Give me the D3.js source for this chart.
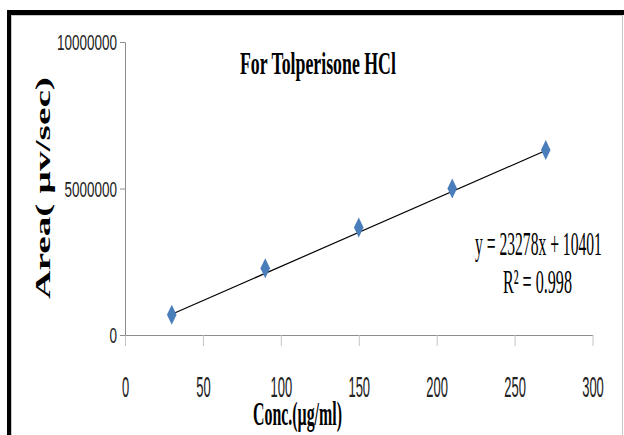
<!DOCTYPE html>
<html>
<head>
<meta charset="utf-8">
<script src="https://cdn.jsdelivr.net/npm/d3@7"></script>
<style>
  body { margin: 0; background: #fff; }
  svg { display: block; }
</style>
</head>
<body>
<div id="chart"></div>
<script>
// data
const conc = [30, 90, 150, 210, 270];
const area = [690000, 2280000, 3670000, 5000000, 6310000];
const xTicks = [0, 50, 100, 150, 200, 250, 300];
const yTicks = [0, 5000000, 10000000];
const slope = 23278;
const intercept = 10401;
const eqLabel = "y = 23278x + 10401";
const r2Label = "R² = 0.998";

// chart size
const width = 624;
const height = 435;

const svg = d3.select("#chart")
  .append("svg")
  .attr("width", width)
  .attr("height", height);

// squeeze a text horizontally so it is `target` px wide (the picture is condensed)
function squeeze(sel, tx, ty, target) {
  sel.each(function(d) {
    const w = this.getComputedTextLength();
    const t = typeof target === "function" ? target(d) : target;
    d3.select(this).attr("x", 0).attr("y", 0)
      .attr("transform", `translate(${tx},${ty}) scale(${t / w},1)`);
  });
}

// frame
svg.append("rect")
  .attr("x", 11.5).attr("y", 15.5)
  .attr("width", 611).attr("height", 430)
  .attr("fill", "#fff")
  .attr("stroke", "#c8c8c8");
svg.append("rect").attr("x", 7).attr("y", 10).attr("width", 617).attr("height", 5).attr("fill", "#000");
svg.append("rect").attr("x", 7).attr("y", 10).attr("width", 4).attr("height", 425).attr("fill", "#000");

// scales
const x = d3.scaleLinear().domain([0, 300]).range([125, 592.5]);
const y = d3.scaleLinear().domain([0, 10000000]).range([335, 42]);

const axisColor = "#8c8c8c";
const sans = "'Liberation Sans', Arial, sans-serif";
const serif = "'Liberation Serif', 'Times New Roman', serif";

// x-axis
const xAxis = svg.append("g")
  .attr("transform", `translate(0,${y(0)})`)
  .call(d3.axisBottom(x).tickValues(xTicks).tickSize(11).tickSizeOuter(0).tickFormat(d3.format("d")));
xAxis.select(".domain").attr("stroke", axisColor);
xAxis.selectAll(".tick line").attr("stroke", "#c4c4c4");
xAxis.selectAll("text")
  .attr("dy", 0)
  .attr("fill", "#222")
  .style("font-family", sans)
  .style("font-size", "30px")
  .call(squeeze, 0, 62, d => String(d).length * 7.2);

// y-axis
const yAxis = svg.append("g")
  .attr("transform", `translate(${x(0)},0)`)
  .call(d3.axisLeft(y).tickValues(yTicks).tickSize(5).tickSizeOuter(0).tickFormat(d3.format("d")));
yAxis.select(".domain").attr("stroke", axisColor);
yAxis.selectAll(".tick line").attr("stroke", axisColor);
yAxis.selectAll("text")
  .attr("dy", "0.36em")
  .attr("fill", "#222")
  .style("font-family", sans)
  .style("font-size", "22px")
  .call(squeeze, -8, 0, d => String(d).length * 7.5);

// trendline
const fit = [conc[0], conc[conc.length - 1]].map(c => [c, slope * c + intercept]);
svg.append("line")
  .attr("x1", x(fit[0][0])).attr("y1", y(fit[0][1]))
  .attr("x2", x(fit[1][0])).attr("y2", y(fit[1][1]))
  .attr("stroke", "#000")
  .attr("stroke-width", 1.2);

// diamond markers
const pts = conc.map((c, i) => ({ c: c, a: area[i] }));
svg.selectAll(".pt")
  .data(pts)
  .enter().append("path")
  .attr("class", "pt")
  .attr("d", "M0,-10L4.8,0L0,10L-4.8,0Z")
  .attr("transform", d => `translate(${x(d.c)},${y(d.a)})`)
  .attr("fill", "#4a7ebb");

// title
svg.append("text")
  .style("font-family", serif).style("font-size", "31px").style("font-weight", "bold")
  .text("For Tolperisone HCl")
  .call(squeeze, 240, 74, 156);

// equation
svg.append("text")
  .style("font-family", serif).style("font-size", "33px")
  .text(eqLabel)
  .call(squeeze, 475, 255, 127);
svg.append("text")
  .style("font-family", serif).style("font-size", "33px")
  .text(r2Label)
  .call(squeeze, 503, 293, 69);

// axis titles
svg.append("text")
  .style("font-family", serif).style("font-size", "33px").style("font-weight", "bold")
  .text("Conc.(µg/ml)")
  .call(squeeze, 253, 425, 89);

svg.append("text")
  .attr("text-anchor", "middle")
  .style("font-family", serif).style("font-size", "20px").style("font-weight", "bold")
  .text("Area( µv/sec)")
  .each(function() {
    const w = this.getComputedTextLength();
    d3.select(this).attr("transform", `translate(50,188) rotate(-90) scale(${222 / w},1)`);
  });
</script>
</body>
</html>
